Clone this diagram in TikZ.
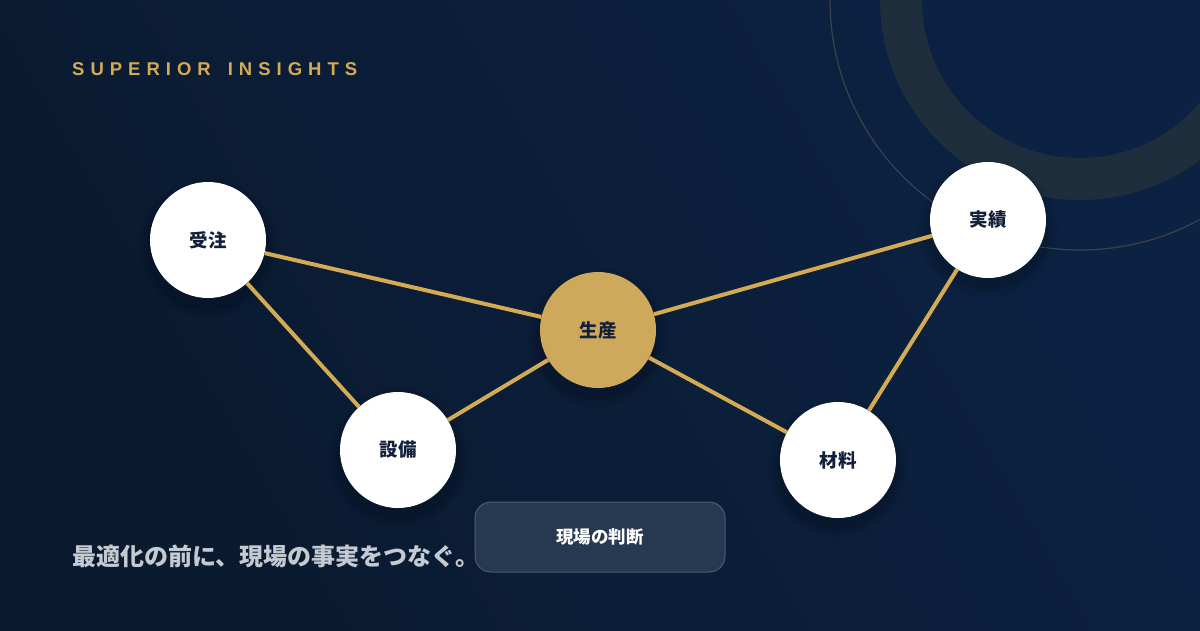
\documentclass[tikz,border=0pt]{standalone}
\usepackage{fontspec}
\setmainfont{Liberation Sans}
\newfontfamily\jp{Noto Sans CJK JP}
\definecolor{bgA}{HTML}{0A1A2F}
\definecolor{bgB}{HTML}{0C2243}
\definecolor{gold}{HTML}{D4AA52}
\definecolor{goldfill}{HTML}{CFA95B}
\definecolor{ringc}{HTML}{1F2E3D}
\definecolor{thinc}{HTML}{3A4248}
\definecolor{navytxt}{HTML}{13203A}
\definecolor{subtxt}{HTML}{C5CAD2}
\definecolor{boxfill}{HTML}{263951}
\definecolor{boxline}{HTML}{4B5C72}
\newcommand{\tk}{\hspace{6pt}}
\tikzset{
  nodecirc/.style={circle, minimum size=116pt, inner sep=0pt, fill=white, text=navytxt,
     font=\jp\bfseries\fontsize{18.5}{22}\selectfont},
  hubcirc/.style={nodecirc, fill=goldfill},
  link/.style={draw=gold, line width=4pt}
}
\begin{document}
\begin{tikzpicture}[x=1pt,y=-1pt]
\useasboundingbox (0,0) rectangle (1200,630);
\shade[left color=bgA, right color=bgB, shading angle=120] (0,0) rectangle (1200,630);
% decorative rings
\begin{scope}
\clip (0,0) rectangle (1200,630);
\draw[ringc, line width=42pt] (1080,0) circle (179);
\draw[thinc, line width=1.2pt] (1080,0) circle (250);
\end{scope}
% title
\node[anchor=west, text=gold, font=\bfseries\fontsize{18.5}{20}\selectfont, inner sep=0pt] (title) at (72,69)
  {S\tk U\tk P\tk E\tk R\tk I\tk O\tk R\hspace{17pt}I\tk N\tk S\tk I\tk G\tk H\tk T\tk S};
% shadows
\foreach \x/\y in {208/240, 398/450, 598/330, 988/220, 838/460}{
  \foreach \r/\o in {70/0.04, 66/0.06, 62/0.08}{
    \fill[black, opacity=\o] (\x,\y+8) circle (\r);
  }
}
% nodes
\node[nodecirc] (juchu) at (208,240) {受注};
\node[nodecirc] (setsubi) at (398,450) {設備};
\node[hubcirc] (seisan) at (598,330) {生産};
\node[nodecirc] (jisseki) at (988,220) {実績};
\node[nodecirc] (zairyo) at (838,460) {材料};
% links
\draw[link] (juchu) -- (seisan);
\draw[link] (juchu) -- (setsubi);
\draw[link] (setsubi) -- (seisan);
\draw[link] (seisan) -- (jisseki);
\draw[link] (seisan) -- (zairyo);
\draw[link] (jisseki) -- (zairyo);
% subtitle
\node[anchor=west, text=subtxt, font=\jp\bfseries\fontsize{24}{27}\selectfont, inner sep=0pt] (sub) at (72,556) {最適化の前に、現場の事実をつなぐ。};
% box
\node[draw=boxline, fill=boxfill, rounded corners=16pt, line width=1pt, minimum width=250pt, minimum height=70pt,
  text=white, font=\jp\bfseries\fontsize{17.5}{20}\selectfont] (judge) at (600,537) {現場の判断};
\end{tikzpicture}
\end{document}
